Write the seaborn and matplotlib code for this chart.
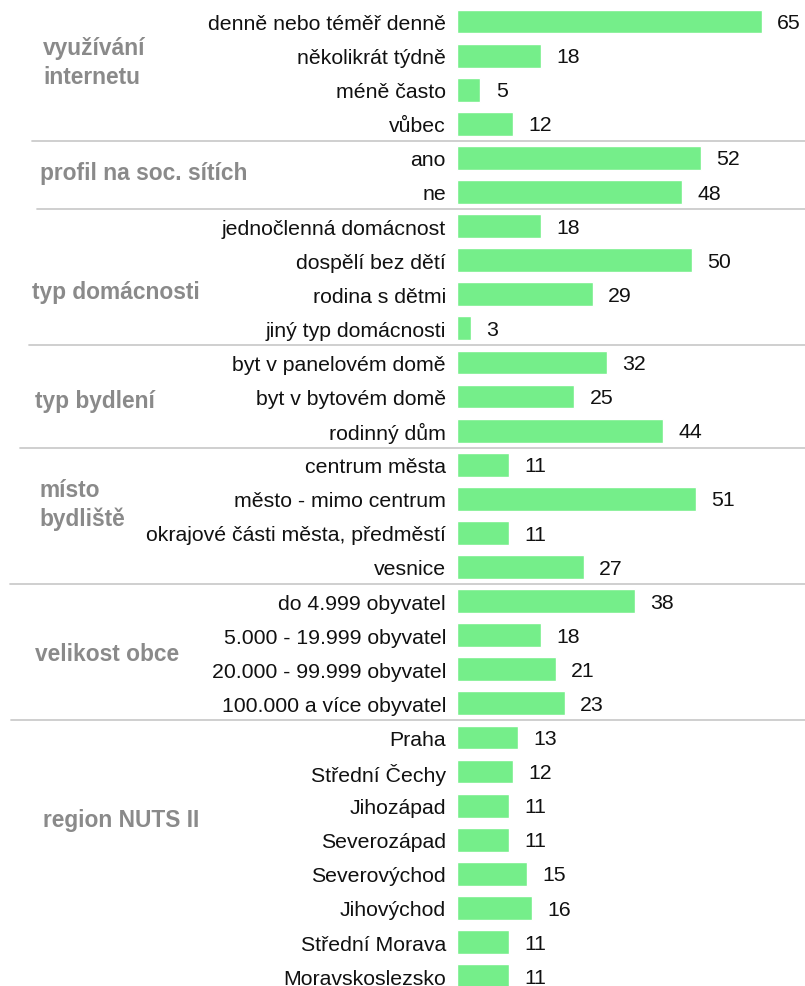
import matplotlib
matplotlib.use('Agg')
import numpy as np
import pandas as pd
import seaborn as sns
import matplotlib.pyplot as plt
from matplotlib.lines import Line2D
from matplotlib.transforms import blended_transform_factory

# data
categories = ['denně nebo téměř denně', 'několikrát týdně', 'méně často', 'vůbec',
              'ano', 'ne',
              'jednočlenná domácnost', 'dospělí bez dětí', 'rodina s dětmi', 'jiný typ domácnosti',
              'byt v panelovém domě', 'byt v bytovém domě', 'rodinný dům',
              'centrum města', 'město - mimo centrum', 'okrajové části města, předměstí', 'vesnice',
              'do 4.999 obyvatel', '5.000 - 19.999 obyvatel', '20.000 - 99.999 obyvatel', '100.000 a více obyvatel',
              'Praha', 'Střední Čechy', 'Jihozápad', 'Severozápad', 'Severovýchod', 'Jihovýchod',
              'Střední Morava', 'Moravskoslezsko']
values = [65, 18, 5, 12,
          52, 48,
          18, 50, 29, 3,
          32, 25, 44,
          11, 51, 11, 27,
          38, 18, 21, 23,
          13, 12, 11, 11, 15, 16, 11, 11]
group_names = ['využívání\ninternetu', 'profil na soc. sítích', 'typ domácnosti', 'typ bydlení',
               'místo\nbydliště', 'velikost obce', 'region NUTS II']
group_sizes = [4, 2, 4, 3, 4, 4, 8]

# layout (pixels / row units)
label_x = [43, 40, 32, 35, 39, 35, 43]
label_row = [1.19, 4.42, 7.91, 11.13, 14.16, 18.53, 23.4]
sep_x = [32, 37, 29, 20, 10, 11]

df = pd.DataFrame({'kategorie': categories, 'podil': values})

sns.set_style("white")
plt.rcParams['font.family'] = ['Liberation Sans', 'DejaVu Sans']

W, H = 805, 987
fig = plt.figure(figsize=(W / 100, H / 100), dpi=100)
ax = fig.add_axes([457 / W, 0, (W - 457) / W, 1])

sns.barplot(data=df, x='podil', y='kategorie', order=categories, color='#75EE8A',
            saturation=1, width=0.7, errorbar=None, ax=ax)
anns = ax.bar_label(ax.containers[0], padding=11, fontsize=15.3, color='#111111')
for a in anns:
    a.xyann = (11, -0.8)

ax.set_xlim(0, (W - 457) / 4.692)
ax.set_ylim(28.29, -0.66)
ax.set_xticks([])
ax.set_xlabel('')
ax.set_ylabel('')
ax.tick_params(axis='y', length=0, pad=8, labelsize=15.3, labelcolor='#111111')
for s in ax.spines.values():
    s.set_visible(False)

trans = blended_transform_factory(fig.transFigure, ax.transData)
bounds = np.cumsum(group_sizes)[:-1] - 0.5
for b, x0 in zip(bounds, sep_x):
    fig.add_artist(Line2D([x0 / W, 1], [b, b], transform=trans, color='#cccccc', lw=1.3))

for name, x0, r in zip(group_names, label_x, label_row):
    fig.text(x0 / W, r, name, transform=trans, ha='left', va='center', fontsize=16.4,
             fontweight='bold', color='#8a8a8a', linespacing=1.3)

fig.savefig('out.png', dpi=100)
